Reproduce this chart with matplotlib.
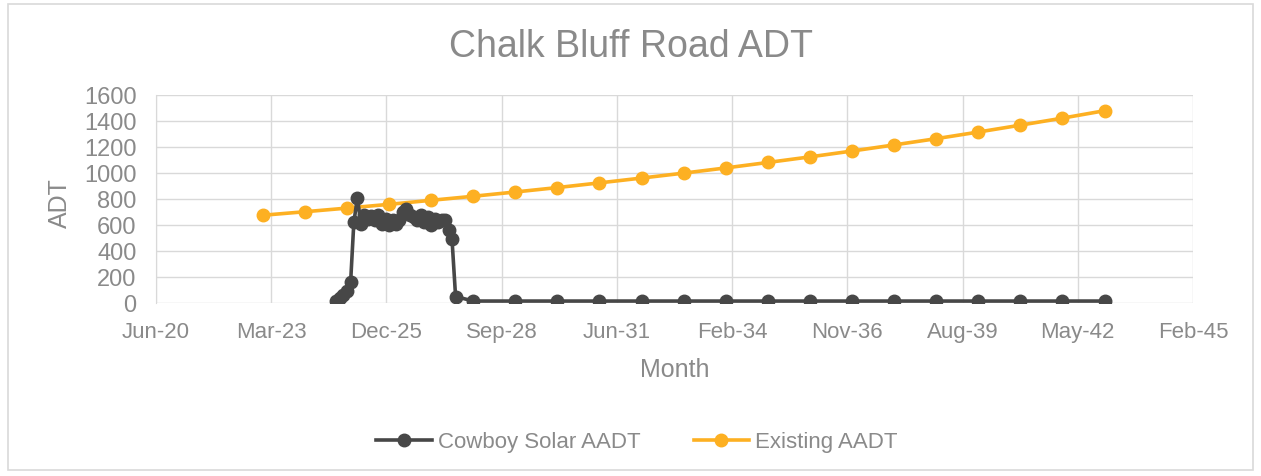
import matplotlib
matplotlib.use("Agg")
import matplotlib.pyplot as plt
import matplotlib.dates as mdates
from matplotlib.patches import Rectangle
import datetime as dt

plt.rcParams['font.family'] = ['Liberation Sans', 'DejaVu Sans']

# ---- data ----
existing_dates = ["2023-01-01", "2024-01-01", "2025-01-01", "2026-01-01", "2027-01-01",
                  "2028-01-01", "2029-01-01", "2030-01-01", "2031-01-01", "2032-01-01",
                  "2033-01-01", "2034-01-01", "2035-01-01", "2036-01-01", "2037-01-01",
                  "2038-01-01", "2039-01-01", "2040-01-01", "2041-01-01", "2042-01-01",
                  "2043-01-01"]
existing_aadt = [675, 702, 730, 759, 790, 821, 854, 888, 924, 961, 999, 1039,
                 1081, 1124, 1169, 1216, 1264, 1315, 1368, 1422, 1479]

solar_dates = ["2024-10-01", "2024-11-01", "2024-12-01", "2025-01-01", "2025-02-01",
               "2025-03-01", "2025-04-01", "2025-05-01", "2025-06-01", "2025-07-01",
               "2025-08-01", "2025-09-01", "2025-10-01", "2025-11-01", "2025-12-01",
               "2026-01-01", "2026-02-01", "2026-03-01", "2026-04-01", "2026-05-01",
               "2026-06-01", "2026-07-01", "2026-08-01", "2026-09-01", "2026-10-01",
               "2026-11-01", "2026-12-01", "2027-01-01", "2027-02-01", "2027-03-01",
               "2027-04-01", "2027-05-01", "2027-06-01", "2027-07-01", "2027-08-01",
               "2028-01-01", "2029-01-01", "2030-01-01", "2031-01-01", "2032-01-01",
               "2033-01-01", "2034-01-01", "2035-01-01", "2036-01-01", "2037-01-01",
               "2038-01-01", "2039-01-01", "2040-01-01", "2041-01-01", "2042-01-01",
               "2043-01-01"]
solar_aadt = [15, 35, 60, 90, 160,
              620, 810, 610, 680, 650,
              670, 640, 680, 610, 650,
              600, 640, 610, 640, 700,
              720, 680, 660, 640, 680,
              620, 660, 600, 650, 620,
              640, 640, 560, 490, 50,
              15, 15, 15, 15, 15,
              15, 15, 15, 15, 15,
              15, 15, 15, 15, 15,
              15]

tick_serials = [44000, 45000, 46000, 47000, 48000, 49000, 50000, 51000, 52000, 53000]

# ---- plotting ----
def to_date(s):
    return dt.datetime.strptime(s, "%Y-%m-%d")

excel_epoch = dt.datetime(1899, 12, 30)
ticks = [excel_epoch + dt.timedelta(days=d) for d in tick_serials]

text_color = "#8a8a8a"
grid_color = "#d9d9d9"
solar_color = "#474747"
existing_color = "#FDB022"

W, H = 1261, 477
fig = plt.figure(figsize=(W / 100, H / 100), dpi=100)
fig.patches.append(Rectangle((0.006, 0.012), 0.988, 0.977, transform=fig.transFigure,
                             fill=False, edgecolor="#d9d9d9", linewidth=1.2))

ax = fig.add_axes([156/W, 1 - 304/H, (1193 - 156)/W, (304 - 96)/H])

ax.plot([to_date(d) for d in solar_dates], solar_aadt, color=solar_color, lw=2.6,
        marker='o', ms=9, label="Cowboy Solar AADT", zorder=3)
ax.plot([to_date(d) for d in existing_dates], existing_aadt, color=existing_color, lw=2.6,
        marker='o', ms=9, label="Existing AADT", zorder=2)

ax.set_xlim(ticks[0], ticks[-1])
ax.set_ylim(0, 1600)
ax.set_xticks(ticks)
ax.xaxis.set_major_formatter(mdates.DateFormatter("%b-%y"))
ax.set_yticks(range(0, 1601, 200))

ax.grid(True, color=grid_color, lw=1)
ax.set_axisbelow(True)
for s in ["top", "right", "bottom"]:
    ax.spines[s].set_visible(False)
ax.spines["left"].set_color(grid_color)
ax.tick_params(axis='x', length=0, labelsize=16, colors=text_color, pad=13)
ax.tick_params(axis='y', length=0, labelsize=17, colors=text_color, pad=14)

fig.text(675/W, 1 - 370/H, "Month", ha='center', va='center', fontsize=18, color=text_color)
fig.text(60/W, 1 - 203/H, "ADT", ha='center', va='center', rotation=90,
         fontsize=18, color=text_color)

fig.text(631/W, 1 - 47/H, "Chalk Bluff Road ADT", ha='center', va='center',
         fontsize=27, color=text_color)

leg = fig.legend(loc='center', bbox_to_anchor=(0.505, 1 - 443/H), ncol=2, frameon=False,
                 fontsize=16, handlelength=2.5, handletextpad=0.25, columnspacing=2.4)
for t in leg.get_texts():
    t.set_color(text_color)

fig.savefig("out.png", dpi=100)
